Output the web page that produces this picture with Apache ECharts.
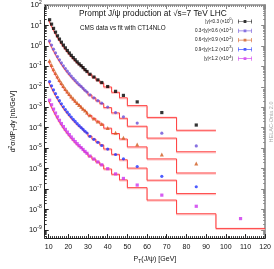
<!DOCTYPE html>
<html><head><meta charset="utf-8">
<script src="https://cdn.jsdelivr.net/npm/echarts@6/dist/echarts.min.js"></script>
<style>html,body{margin:0;padding:0;background:#fff}#c{width:274px;height:269px}</style>
</head><body><div id="c"></div>
<script>
// pT bin edges and centres (GeV)
const pTEdges = [10,11,12,13,14,15,16,17,18,19,20,21,22,23,24,25,26,27,28,29,30,32,34,36,38,42,46,50,60,75,95,120];
const pTCenters = [10.5,11.5,12.5,13.5,14.5,15.5,16.5,17.5,18.5,19.5,20.5,21.5,22.5,23.5,24.5,25.5,26.5,27.5,28.5,29.5,31,33,35,37,40,44,48,55,67.5,85,107.5];

const seriesNames = ['|y|<0.3', '0.3<|y|<0.6', '0.6<|y|<0.9', '0.9<|y|<1.2', '|y|<1.2'];
const scaleExponents = [0, -1, -2, -3, -4];
const seriesColors = ['#000000', '#6a4fd8', '#cf5a1e', '#2233ff', '#cc33ee'];
const seriesSymbols = ['rect', 'circle', 'triangle', 'circle', 'rect'];

// CMS data, unscaled d2sigma/dpTdy [nb/GeV]
const dataY03 = [19,11.6,7.2,4.7,3.1,2.15,1.52,1.09,0.80,0.595,0.45,0.345,0.268,0.21,0.165,0.132,0.108,0.087,0.069,0.056,0.041,0.030,0.0218,0.0162,0.0103,0.0060,0.0038,0.00183,0.00055,0.000135];
const dataY0306 = [17.5,11.0,6.9,4.55,3.0,2.08,1.47,1.06,0.78,0.58,0.44,0.335,0.26,0.205,0.161,0.128,0.104,0.084,0.068,0.055,0.040,0.029,0.021,0.0158,0.0102,0.0055,0.0034,0.00168,0.00054,0.000129];
const dataY0609 = [19,11.8,7.3,4.75,3.15,2.15,1.52,1.08,0.79,0.59,0.445,0.34,0.265,0.207,0.163,0.13,0.105,0.085,0.069,0.056,0.0405,0.0282,0.0202,0.015,0.0097,0.0056,0.0032,0.00149,0.00049,0.000178];
const dataY0912 = [18,11.2,7.0,4.6,3.05,2.1,1.48,1.06,0.77,0.575,0.435,0.333,0.258,0.202,0.16,0.127,0.102,0.083,0.067,0.055,0.038,0.027,0.0192,0.0135,0.009,0.0049,0.003,0.00127,0.00042,0.00013];
const dataY12 = [22,13.2,8.1,5.2,3.4,2.3,1.6,1.14,0.83,0.61,0.46,0.35,0.27,0.21,0.166,0.132,0.106,0.086,0.069,0.056,0.041,0.0295,0.0213,0.0154,0.0099,0.0055,0.0033,0.00157,0.000505,0.000144,0.000036];

// CT14NLO fit, unscaled, per pT bin
const fitY03 = [18.6,11.5,7.25,4.75,3.15,2.15,1.5,1.07,0.78,0.58,0.44,0.335,0.26,0.205,0.162,0.129,0.104,0.084,0.068,0.056,0.041,0.0295,0.0212,0.0155,0.0098,0.0054,0.0029,0.0012,0.00032,0.000075];
const fitY0306 = [17.8,11.1,7.0,4.6,3.05,2.1,1.48,1.06,0.77,0.57,0.43,0.33,0.255,0.2,0.158,0.126,0.101,0.082,0.067,0.055,0.040,0.0288,0.0208,0.0152,0.0096,0.0053,0.0029,0.00118,0.00031,0.0000665];
const fitY0609 = [18.3,11.3,7.1,4.65,3.1,2.12,1.49,1.06,0.775,0.575,0.435,0.332,0.258,0.202,0.159,0.127,0.102,0.083,0.067,0.055,0.040,0.0287,0.0207,0.0151,0.0095,0.0052,0.0028,0.00115,0.000298,0.000061];
const fitY0912 = [17.6,11.0,6.95,4.55,3.02,2.08,1.46,1.05,0.765,0.57,0.43,0.328,0.254,0.199,0.157,0.125,0.1,0.081,0.066,0.054,0.039,0.0280,0.0200,0.0145,0.0091,0.0050,0.0027,0.00106,0.000272,0.00006];
const fitY12 = [21,12.8,7.9,5.1,3.35,2.27,1.58,1.12,0.81,0.6,0.45,0.343,0.265,0.207,0.163,0.13,0.104,0.085,0.068,0.056,0.0405,0.029,0.021,0.0152,0.0096,0.0053,0.0028,0.00117,0.00029,0.000062,0.0000119];

const xTickLabels = [10,20,30,40,50,60,70,80,90,100,110,120];
const yTickLabels = [1e-9,1e-8,1e-7,1e-6,1e-5,1e-4,1e-3,1e-2,1e-1,1,10,100];

const allData = [dataY03, dataY0306, dataY0609, dataY0912, dataY12];
const allFit = [fitY03, fitY0306, fitY0609, fitY0912, fitY12];

const yMin = 4e-10, yMax = 100, xMin = 8, xMax = 120;
const yMinor = [];
for (let d = -10; d <= 1; d++) for (let k = 2; k <= 9; k++) { const v = k * Math.pow(10, d); if (v > yMin && v < yMax) yMinor.push(v); }

const FONT = 'Liberation Sans';
const supRich = { s: { fontSize: 5, verticalAlign: 'top', lineHeight: 6, fontFamily: FONT, color: '#111' } };

const series = [];
allFit.forEach((f, i) => {
  const sc = Math.pow(10, scaleExponents[i]);
  const pts = [];
  f.forEach((v, j) => { pts.push([pTEdges[j], v * sc]); pts.push([pTEdges[j + 1], v * sc]); });
  series.push({
    name: 'fit' + i, type: 'line', data: pts, showSymbol: false, silent: true, z: 2,
    lineStyle: { color: '#ff4040', width: 1, shadowColor: 'rgba(255,175,175,0.8)', shadowBlur: 0, shadowOffsetY: 1.1 }
  });
});
allData.forEach((d, i) => {
  const sc = Math.pow(10, scaleExponents[i]);
  series.push({
    name: seriesNames[i], type: 'scatter', z: 5,
    data: d.map((v, j) => [pTCenters[j], v * sc]),
    symbol: seriesSymbols[i], symbolSize: seriesSymbols[i] === 'triangle' ? 4 : 3.2,
    itemStyle: { color: seriesColors[i] }
  });
});

const legendIcon = 'path://M0,2h1v6h-1zM0,4.5h20v1h-20zM19,2h1v6h-1zM8,3h4v4h-4z';

const option = {
  animation: false,
  textStyle: { fontFamily: FONT },
  grid: { left: 34, right: 8, top: 5, bottom: 26 },
  title: [
    { text: 'Prompt J/ψ production at √s=7 TeV LHC', left: 79, top: 10, padding: 0,
      textStyle: { fontSize: 8.3, fontWeight: 'normal', color: '#111', fontFamily: FONT } },
    { text: 'CMS data vs fit with CT14NLO', left: 80, top: 25, padding: 0,
      textStyle: { fontSize: 6.3, fontWeight: 'normal', color: '#111', fontFamily: FONT } }
  ],
  legend: {
    data: seriesNames.map(n => ({ name: n, icon: legendIcon })),
    orient: 'vertical', right: 22, top: 18, align: 'right',
    itemWidth: 14, itemHeight: 6, itemGap: 2.3, padding: 0,
    formatter: (name) => { const i = seriesNames.indexOf(name); return name + ' (×10{s|' + scaleExponents[i] + '})'; },
    textStyle: { fontSize: 4.6, color: '#111', fontFamily: FONT, lineHeight: 7,
      rich: { s: { fontSize: 3.4, verticalAlign: 'top', lineHeight: 4, fontFamily: FONT, color: '#111' } } }
  },
  xAxis: [
    { type: 'value', position: 'bottom', min: xMin, max: xMax, interval: 1,
      axisLine: { onZero: false, lineStyle: { color: '#222', width: 1 } },
      axisTick: { inside: true, length: 2, lineStyle: { color: '#333' } },
      axisLabel: { customValues: xTickLabels, fontSize: 7, margin: 5, color: '#111', fontFamily: FONT },
      splitLine: { show: false },
      name: 'P{sub|T}(J/ψ) [GeV]', nameLocation: 'middle', nameGap: 13,
      nameTextStyle: { fontSize: 7, color: '#111', fontFamily: FONT, lineHeight: 9,
        rich: { sub: { fontSize: 5, verticalAlign: 'bottom', lineHeight: 6, fontFamily: FONT, color: '#111' } } } },
    { type: 'value', position: 'bottom', min: xMin, max: xMax,
      axisLine: { show: false }, axisLabel: { show: false }, splitLine: { show: false },
      axisTick: { inside: true, length: 4, customValues: xTickLabels, lineStyle: { color: '#222' } } },
    { type: 'value', position: 'top', min: xMin, max: xMax, interval: 1,
      axisLine: { onZero: false, lineStyle: { color: '#8a8a8a', width: 1.6 } },
      axisTick: { inside: true, length: 2, lineStyle: { color: '#888' } },
      axisLabel: { show: false }, splitLine: { show: false } },
    { type: 'value', position: 'top', min: xMin, max: xMax,
      axisLine: { show: false }, axisLabel: { show: false }, splitLine: { show: false },
      axisTick: { inside: true, length: 4, customValues: xTickLabels, lineStyle: { color: '#888' } } }
  ],
  yAxis: [
    { type: 'log', position: 'left', min: yMin, max: yMax,
      axisLine: { show: true, onZero: false, lineStyle: { color: '#222', width: 1 } },
      axisTick: { inside: true, length: 4, customValues: yTickLabels, lineStyle: { color: '#222' } },
      axisLabel: { customValues: yTickLabels, margin: 3, fontSize: 7.5, color: '#111', fontFamily: FONT, lineHeight: 10,
        formatter: (v) => '10{s|' + Math.round(Math.log10(v)) + '}', rich: supRich },
      splitLine: { show: false },
      name: 'd{sup|2}σ/dP{sub|T}dy [nb/GeV]', nameLocation: 'middle', nameGap: 23,
      nameTextStyle: { fontSize: 7, color: '#111', fontFamily: FONT, lineHeight: 10,
        rich: { sup: { fontSize: 5, verticalAlign: 'top', lineHeight: 6, fontFamily: FONT, color: '#111' },
                sub: { fontSize: 5, verticalAlign: 'bottom', lineHeight: 6, fontFamily: FONT, color: '#111' } } } },
    { type: 'log', position: 'left', min: yMin, max: yMax,
      axisLine: { show: false }, axisLabel: { show: false }, splitLine: { show: false },
      axisTick: { inside: true, length: 2, customValues: yMinor, lineStyle: { color: '#333' } } },
    { type: 'log', position: 'right', min: yMin, max: yMax,
      axisLine: { show: true, onZero: false, lineStyle: { color: '#8a8a8a', width: 1.6 } },
      axisTick: { inside: true, length: 4, customValues: yTickLabels, lineStyle: { color: '#888' } },
      axisLabel: { show: false }, splitLine: { show: false } },
    { type: 'log', position: 'right', min: yMin, max: yMax,
      axisLine: { show: false }, axisLabel: { show: false }, splitLine: { show: false },
      axisTick: { inside: true, length: 2, customValues: yMinor, lineStyle: { color: '#888' } } }
  ],
  graphic: [
    { type: 'text', x: 271, y: 122, rotation: Math.PI / 2, silent: true,
      style: { text: 'HELAC-Onia 2.0', fontSize: 5.5, fill: '#aaaaaa', fontFamily: FONT, align: 'center', verticalAlign: 'middle' } }
  ],
  series: series
};
const chart = echarts.init(document.getElementById('c'), null, { renderer: 'canvas' });
chart.setOption(option);
</script></body></html>
